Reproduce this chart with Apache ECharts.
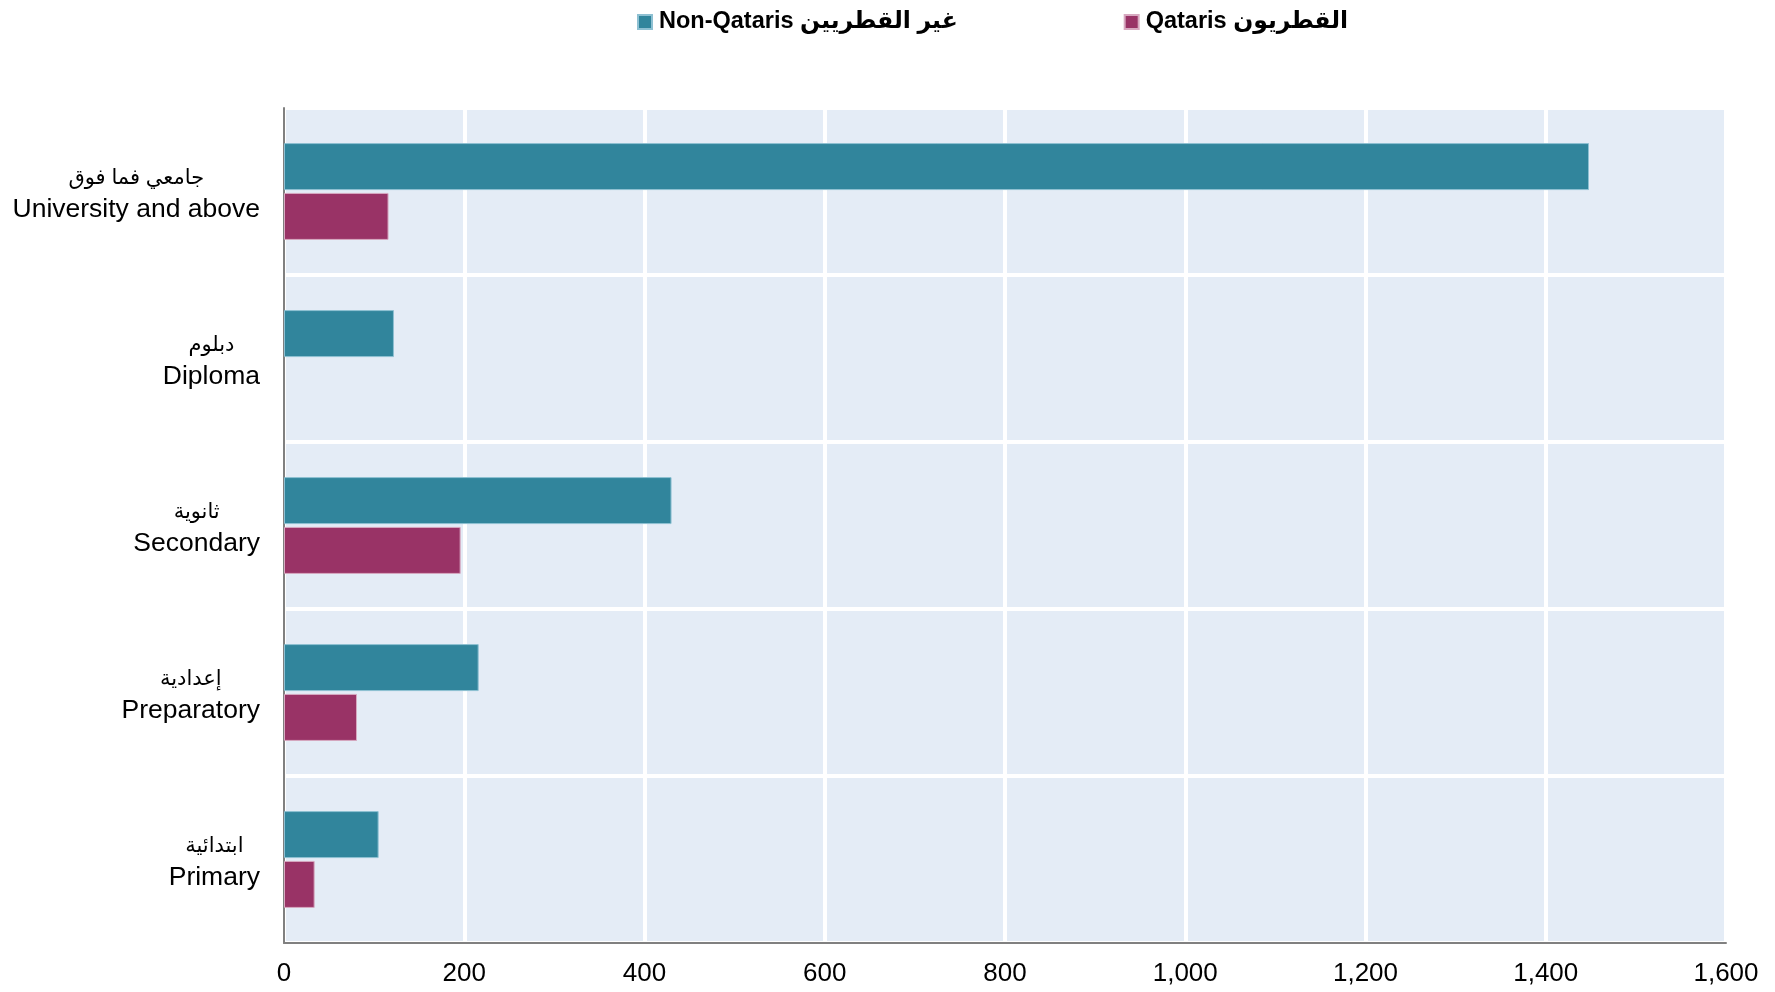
<!DOCTYPE html>
<html><head><meta charset="utf-8">
<script src="https://cdn.jsdelivr.net/npm/echarts@6/dist/echarts.min.js"></script>
<style>html,body{margin:0;padding:0;background:#fff}#c{width:1775px;height:992px}</style>
</head><body><div id="c"></div>
<script>
const categoriesEn = ['University and above', 'Diploma', 'Secondary', 'Preparatory', 'Primary'];
const categoriesAr = ['جامعي فما فوق', 'دبلوم', 'ثانوية', 'إعدادية', 'ابتدائية'];
const nonQataris = [1448, 122, 430, 216, 105];
const qataris = [116, null, 196, 81, 34];
const seriesNames = ['Non-Qataris غير القطريين', 'Qataris القطريون'];
const xTicks = [0, 200, 400, 600, 800, 1000, 1200, 1400, 1600];

const chart = echarts.init(document.getElementById('c'));
chart.setOption({
  animation: false,
  legend: {
    top: 5, left: 632, itemWidth: 14, itemHeight: 14, itemGap: 166,
    icon: 'rect',
    textStyle: {fontFamily: 'Liberation Sans, DejaVu Sans', fontWeight: 'bold', fontSize: 23.5, color: '#000', padding: [0, 0, 0, 2]},
    data: seriesNames
  },
  grid: {left: 284, right: 49, top: 108, bottom: 49, show: true, backgroundColor: '#E4ECF6', borderWidth: 0},
  xAxis: {
    type: 'value', min: xTicks[0], max: xTicks[xTicks.length - 1], interval: 200,
    axisLine: {show: true, lineStyle: {color: '#808080', width: 2}},
    axisTick: {show: false},
    splitLine: {show: true, lineStyle: {color: '#ffffff', width: 4}},
    axisLabel: {fontFamily: 'Liberation Sans', fontSize: 26, color: '#000', margin: 18,
      formatter: v => v.toLocaleString('en-US')}
  },
  yAxis: {
    type: 'category', inverse: true,
    data: categoriesEn,
    axisLine: {show: true, lineStyle: {color: '#808080', width: 2}},
    axisTick: {show: false},
    splitLine: {show: true, lineStyle: {color: '#ffffff', width: 4}},
    axisLabel: {
      margin: 24, align: 'right', padding: [5, 0, 0, 0],
      formatter: (v, i) => '{ar|' + categoriesAr[i] + '}\n{en|' + v + '}',
      rich: {
        ar: {fontFamily: 'Liberation Sans, DejaVu Sans', fontSize: 21, color: '#000', align: 'center', lineHeight: 31},
        en: {fontFamily: 'Liberation Sans', fontSize: 26.5, color: '#000', align: 'center', lineHeight: 32}
      }
    }
  },
  series: [
    {name: seriesNames[0], type: 'bar', data: nonQataris, barWidth: 47, barGap: '6%',
      itemStyle: {color: '#31859C', borderColor: '#8EC0D2', borderWidth: 1}},
    {name: seriesNames[1], type: 'bar', data: qataris, barWidth: 47, barGap: '6%',
      itemStyle: {color: '#993366', borderColor: '#D7A9C0', borderWidth: 1}}
  ]
});
</script></body></html>
